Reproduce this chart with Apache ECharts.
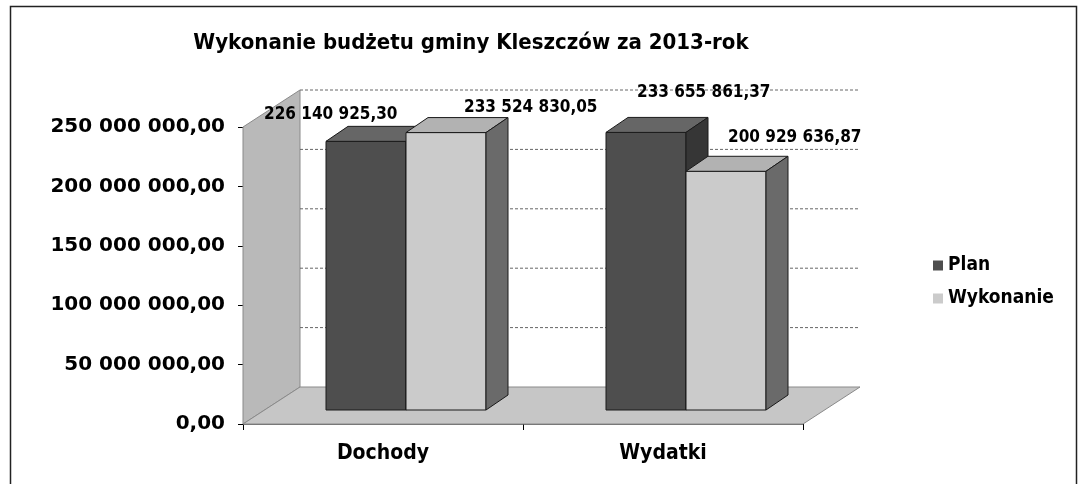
<!DOCTYPE html>
<html><head><meta charset="utf-8">
<script src="https://cdn.jsdelivr.net/npm/echarts@6/dist/echarts.min.js"></script>
<style>html,body{margin:0;padding:0;background:#fff}#c{width:1079px;height:484px}</style>
</head><body><div id="c"></div>
<script>
// ---- data ----
const titleText = 'Wykonanie budżetu gminy Kleszczów za 2013-rok';
const categories = ['Dochody', 'Wydatki'];
const seriesNames = ['Plan', 'Wykonanie'];
const planValues = [226140925.30, 233655861.37];
const wykonanieValues = [233524830.05, 200929636.87];
const yTicks = [0, 50000000, 100000000, 150000000, 200000000, 250000000];

// ---- styling constants ----
const FRONT_DX = 23, FRONT_DY = -14;   // bar front plane offset (3D look)
const DEPTH_DX = 22, DEPTH_DY = -15;   // bar depth
const BACK_DX = 57, BACK_DY = -37;     // back wall offset
const BAR_FRAC = 80 / 280;
const labelShift = [[[-62, -27], [31, -40]], [[58, -25], [42, -34]]];
const faceColors = [
  { front: '#4e4e4e', top: '#666666', side: '#363636' },
  { front: '#cbcbcb', top: '#b2b2b2', side: '#6a6a6a' }
];
const FONT = '"DejaVu Sans Condensed", "DejaVu Sans"';

function fmt(v) {
  const parts = v.toFixed(2).split('.');
  return parts[0].replace(/\B(?=(\d{3})+(?!\d))/g, ' ') + ',' + parts[1];
}

const chart = echarts.init(document.getElementById('c'));

function barRenderer(sIdx) {
  return function (params, api) {
    const ci = api.value(0), v = api.value(1);
    const base = api.coord([ci, 0]);
    const top = api.coord([ci, v]);
    const catW = api.size([1, 0])[0];
    const bw = catW * BAR_FRAC;
    const x0 = base[0] + FRONT_DX - bw + sIdx * bw;
    const yT = top[1] + FRONT_DY, yB = base[1] + FRONT_DY;
    const c = faceColors[sIdx];
    const sh = labelShift[sIdx][ci];
    return {
      type: 'group',
      children: [
        { type: 'rect', shape: { x: x0, y: yT, width: bw, height: yB - yT },
          style: { fill: c.front, stroke: '#1a1a1a', lineWidth: 1 } },
        { type: 'polygon', shape: { points: [[x0, yT], [x0 + bw, yT], [x0 + bw + DEPTH_DX, yT + DEPTH_DY], [x0 + DEPTH_DX, yT + DEPTH_DY]] },
          style: { fill: c.top, stroke: '#1a1a1a', lineWidth: 1 } },
        { type: 'polygon', shape: { points: [[x0 + bw, yT], [x0 + bw + DEPTH_DX, yT + DEPTH_DY], [x0 + bw + DEPTH_DX, yB + DEPTH_DY], [x0 + bw, yB]] },
          style: { fill: c.side, stroke: '#1a1a1a', lineWidth: 1 } },
        { type: 'text', x: x0 + sh[0], y: yT + sh[1],
          style: { text: fmt(v), fill: '#000', font: 'bold 17px ' + FONT, textAlign: 'left', textVerticalAlign: 'middle' } }
      ]
    };
  };
}

function wallRenderer(params, api) {
  const p0 = api.coord([0, 0]);
  const catW = api.size([1, 0])[0];
  const left = p0[0] - catW / 2;
  const right = left + catW * categories.length;
  const bottom = p0[1];
  const topY = api.coord([0, yTicks[yTicks.length - 1]])[1];
  const children = [
    { type: 'polygon', shape: { points: [[left, bottom], [left, topY], [left + BACK_DX, topY + BACK_DY], [left + BACK_DX, bottom + BACK_DY]] },
      style: { fill: '#b9b9b9', stroke: '#8a8a8a', lineWidth: 1 } },
    { type: 'polygon', shape: { points: [[left, bottom], [right, bottom], [right + BACK_DX, bottom + BACK_DY], [left + BACK_DX, bottom + BACK_DY]] },
      style: { fill: '#c6c6c6', stroke: '#8a8a8a', lineWidth: 1 } }
  ];
  yTicks.forEach(function (t) {
    if (t === 0) return;
    const y = api.coord([0, t])[1] + BACK_DY;
    children.push({ type: 'line', shape: { x1: left + BACK_DX, y1: y, x2: right + BACK_DX, y2: y },
      style: { stroke: '#666', lineWidth: 1, lineDash: [3, 2] } });
  });
  return { type: 'group', children: children };
}

chart.setOption({
  animation: false,
  backgroundColor: '#fff',
  title: {
    text: titleText, left: 466, top: 27, textAlign: 'center',
    textStyle: { fontFamily: FONT, fontWeight: 'bold', fontSize: 22, color: '#000' }
  },
  legend: {
    orient: 'vertical', left: 928, top: 251, itemGap: 14,
    itemWidth: 10, itemHeight: 10, icon: 'rect',
    data: seriesNames,
    textStyle: { fontFamily: FONT, fontWeight: 'bold', fontSize: 19, color: '#000' }
  },
  grid: { left: 243, right: 276, top: 127, bottom: 60 },
  xAxis: {
    type: 'category', data: categories,
    axisLine: { show: true, lineStyle: { color: '#666' } },
    axisTick: { show: true, length: 6, lineStyle: { color: '#000' } },
    axisLabel: { margin: 19, color: '#000', fontFamily: FONT, fontWeight: 'bold', fontSize: 21 }
  },
  yAxis: {
    type: 'value', min: 0, max: 250000000, interval: 50000000,
    axisLine: { show: false },
    axisTick: { show: true, length: 5, lineStyle: { color: '#000' } },
    splitLine: { show: false },
    axisLabel: { margin: 18, color: '#000', fontFamily: '"DejaVu Sans"', fontWeight: 'bold', fontSize: 20, formatter: fmt }
  },
  series: [
    { type: 'custom', name: '_walls', renderItem: wallRenderer, data: [[0, 0]], silent: true, z: 1 },
    { type: 'custom', name: seriesNames[0], renderItem: barRenderer(0), itemStyle: { color: '#4e4e4e', borderColor: '#222' },
      data: planValues.map(function (v, i) { return [i, v]; }), z: 2 },
    { type: 'custom', name: seriesNames[1], renderItem: barRenderer(1), itemStyle: { color: '#cbcbcb', borderColor: '#222' },
      data: wykonanieValues.map(function (v, i) { return [i, v]; }), z: 3 }
  ],
  graphic: [
    { type: 'rect', left: 8, top: 4, shape: { width: 1066, height: 500 }, style: { fill: 'none', stroke: '#222', lineWidth: 1.5 }, silent: true }
  ]
});
</script>
</body></html>
